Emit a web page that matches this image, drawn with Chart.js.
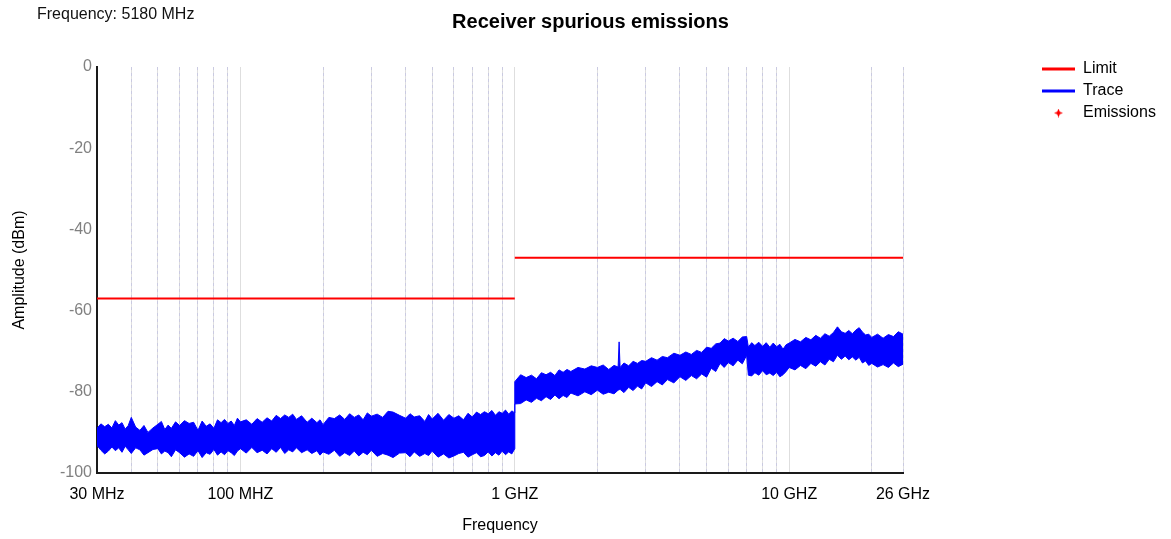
<!DOCTYPE html>
<html>
<head>
<meta charset="utf-8">
<title>Receiver spurious emissions</title>
<script src="https://cdn.jsdelivr.net/npm/chart.js@4.4.1/dist/chart.umd.min.js"></script>
<style>
    html, body { margin: 0; padding: 0; background: #fff; }
    #wrap { width: 1171px; height: 539px; }
</style>
</head>
<body>
<div id="wrap"><canvas id="spuriousChart" width="1171" height="539"></canvas></div>
<script>
// Datos (frecuencias en MHz, amplitudes en dBm)
const tickFreqMHz = [30, 100, 1000, 10000, 26000];
const tickLabels = ['30 MHz', '100 MHZ', '1 GHZ', '10 GHZ', '26 GHz'];
const gridFreqMHz = [40, 50, 60, 70, 80, 90, 200, 300, 400, 500, 600, 700, 800, 900,
    2000, 3000, 4000, 5000, 6000, 7000, 8000, 9000, 20000];
const yTicks = [0, -20, -40, -60, -80, -100];

// Línea límite (con corte en 1 GHz)
const limitFreqMHz = [30, 1000, 1000, 1000, 26000];
const limitDbm = [-57, -57, null, -47, -47];

// Traza: borde superior e inferior de la banda de ruido
const traceFreqMHz = [
    30, 31, 32, 33, 34, 35, 36, 37, 38, 39,
    40, 41.5, 43, 44.5, 46, 48, 50, 51.5, 53, 54.5,
    56, 58, 60, 62.5, 65, 67.5, 70, 72.5, 75, 77.5,
    80, 82.5, 85, 87.5, 90, 92.5, 95, 97.5, 100, 105,
    110, 115, 120, 125, 130, 135, 140, 145, 150, 155,
    160, 167, 175, 182, 190, 195, 200, 210, 220, 230,
    240, 250, 260, 270, 280, 290, 300, 315, 330, 345,
    360, 380, 400, 415, 430, 450, 470, 485, 500, 525,
    550, 575, 600, 625, 650, 675, 700, 725, 750, 775,
    800, 825, 850, 875, 900, 925, 950, 975, 1000,
    1000, 1050, 1100, 1150, 1200, 1250, 1300, 1350, 1400, 1450,
    1500, 1550, 1600, 1700, 1800, 1900, 2000, 2100, 2200, 2300,
    2380, 2400, 2420, 2500, 2600, 2700, 2800, 2900, 3000, 3150,
    3300, 3450, 3600, 3800, 4000, 4200, 4400, 4600, 4800, 5000,
    5200, 5400, 5600, 5800, 6000, 6250, 6500, 6750, 7000, 7100,
    7300, 7500, 7750, 8000, 8250, 8500, 8750, 9000, 9250, 9500,
    9750, 10000, 10500, 11000, 11500, 12000, 12500, 13000, 13500, 14000,
    14500, 15000, 15500, 16000, 16500, 17000, 17500, 18000, 18500, 19000,
    19500, 20000, 21000, 22000, 23000, 24000, 25000, 26000
];
const traceTopDbm = [
    -89.0, -87.9, -88.6, -88.0, -88.9, -87.1, -88.2, -87.6, -89.2, -88.3,
    -86.3, -88.7, -89.5, -88.3, -90.0, -88.9, -88.0, -87.3, -89.3, -88.2,
    -89.0, -87.4, -88.3, -87.1, -87.8, -87.5, -89.5, -87.2, -88.5, -87.9,
    -89.0, -86.9, -87.6, -86.8, -87.8, -87.2, -88.3, -86.5, -87.4, -86.9,
    -88.0, -86.6, -87.5, -86.4, -87.2, -85.8, -86.6, -85.7, -86.3, -85.5,
    -86.8, -85.9, -87.5, -86.5, -87.6, -86.9, -88.1, -86.3, -86.6, -85.7,
    -86.8, -85.4, -86.3, -85.7, -86.9, -85.2, -86.0, -85.5, -86.3, -84.8,
    -85.0, -85.8, -86.5, -85.4, -86.2, -85.9, -87.3, -85.6, -86.7, -85.3,
    -87.0, -85.6, -86.5, -85.9, -86.9, -85.3, -86.2, -85.0, -85.6, -84.9,
    -85.4, -84.6, -85.8, -84.9, -85.3, -84.5, -85.5, -84.7, -85.2,
    -77.5, -75.8, -76.5, -75.9, -76.8, -75.3, -75.8, -75.2, -76.0, -74.6,
    -75.2, -74.5, -75.0, -74.0, -74.4, -73.6, -74.0, -73.4, -74.5, -73.5,
    -73.9, -67.7, -74.0, -72.9, -73.6, -72.5, -73.0, -72.3, -72.5, -71.6,
    -72.2, -71.3, -71.6, -70.5, -71.0, -70.2, -70.8, -69.8, -70.3, -69.0,
    -69.3, -68.2, -68.0, -66.9, -67.5, -66.8, -67.6, -66.5, -66.4, -69.0,
    -67.9, -68.6, -67.8, -68.8, -67.9, -69.0, -68.0, -68.9, -68.3, -69.5,
    -68.4, -68.0, -67.1, -67.7, -66.6, -67.2, -66.1, -66.8, -65.7, -66.3,
    -65.4, -64.0, -65.2, -65.6, -64.9, -65.7, -64.8, -64.2, -65.3, -66.0,
    -65.8, -66.6, -65.8, -66.8, -65.9, -66.4, -65.2, -65.8
];
const traceBottomDbm = [
    -93.2, -94.4, -95.3, -94.6, -93.6, -94.5, -93.8, -94.9, -93.4, -94.3,
    -95.2, -93.8, -94.3, -95.6, -95.0, -94.2, -94.0, -95.3, -94.6, -95.0,
    -96.0, -94.3, -95.0, -96.1, -95.3, -95.9, -94.5, -96.2, -95.0, -95.4,
    -94.2, -95.6, -94.8, -95.5, -94.5, -95.0, -95.7, -94.6, -94.0, -95.1,
    -93.7, -95.0, -94.4, -95.3, -94.0, -94.9, -93.7, -95.2, -94.3, -94.8,
    -93.8, -95.0, -94.3, -95.2, -94.5, -95.6, -94.8, -95.4, -94.4, -95.9,
    -95.0, -95.7, -94.6, -95.8, -94.9, -95.5, -94.4, -95.9, -95.2, -95.6,
    -96.2, -95.1, -95.0, -96.0, -94.8, -95.9, -95.2, -95.7, -94.6, -96.1,
    -95.3, -96.3, -95.8, -95.2, -94.9, -96.1, -95.5, -95.0, -96.0, -95.7,
    -94.8, -95.8, -95.0, -95.6, -94.6, -95.5, -94.8, -95.3, -94.0,
    -83.0, -82.9, -82.0, -82.6, -81.6, -82.2, -81.2, -81.9, -80.8, -81.7,
    -80.9, -81.4, -80.3, -81.0, -80.0, -80.7, -79.6, -80.6, -80.1, -80.5,
    -79.6, -79.5, -79.4, -80.2, -78.9, -79.7, -78.6, -79.3, -77.8, -78.7,
    -77.5, -78.3, -77.0, -77.8, -76.3, -77.2, -76.0, -76.8, -75.6, -76.4,
    -74.2, -75.0, -73.0, -74.0, -72.8, -73.6, -72.2, -73.1, -71.0, -75.9,
    -76.1, -75.3, -75.9, -74.8, -75.8, -75.4, -76.0, -75.2, -76.3, -75.8,
    -75.0, -74.0, -74.6, -73.5, -74.3, -73.0, -73.7, -72.6, -73.4, -72.0,
    -72.6, -71.0, -72.0, -71.2, -72.1, -71.4, -72.2, -71.5, -72.9, -72.4,
    -73.5, -73.0, -73.9, -73.3, -74.0, -72.9, -73.8, -73.2
];

// Emisiones detectadas (ninguna en la captura)
const emissionFreqMHz = [];
const emissionDbm = [];

const allTicks = tickFreqMHz.concat(gridFreqMHz).sort((a, b) => a - b);

function puntos(xs, ys) {
    return xs.map((x, i) => ({ x: x, y: ys[i] }));
}

// Marcador de estrella roja para "Emissions"
function crearEstrella() {
    const c = document.createElement('canvas');
    c.width = 9;
    c.height = 9;
    const g = c.getContext('2d');
    g.fillStyle = '#ff0000';
    g.beginPath();
    g.moveTo(4.5, 0);
    g.lineTo(5.8, 3.2);
    g.lineTo(9, 4.5);
    g.lineTo(5.8, 5.8);
    g.lineTo(4.5, 9);
    g.lineTo(3.2, 5.8);
    g.lineTo(0, 4.5);
    g.lineTo(3.2, 3.2);
    g.closePath();
    g.fill();
    return c;
}
const estrella = crearEstrella();

Chart.defaults.font.family = '"Liberation Sans", Arial, sans-serif';
Chart.defaults.font.size = 16;
Chart.defaults.color = '#000';

// Texto de cabecera y posición de la leyenda
const extras = {
    id: 'extras',
    afterLayout(chart) {
        const lg = chart.legend;
        if (lg) {
            lg.left = 1036;
            lg.right = lg.left + lg.width;
            lg.top = 55;
            lg.bottom = lg.top + lg.height;
        }
    },
    afterDraw(chart) {
        const ctx = chart.ctx;
        ctx.save();
        ctx.font = '16px "Liberation Sans", Arial, sans-serif';
        ctx.fillStyle = '#111';
        ctx.textBaseline = 'middle';
        ctx.textAlign = 'left';
        ctx.fillText('Frequency: 5180 MHz', 37, 15);
        ctx.restore();
    }
};

const ctx = document.getElementById('spuriousChart').getContext('2d');
const spuriousChart = new Chart(ctx, {
    type: 'line',
    data: {
        datasets: [
            {
                label: 'Limit',
                data: puntos(limitFreqMHz, limitDbm),
                borderColor: '#ff0000',
                backgroundColor: '#ff0000',
                borderWidth: 2,
                pointRadius: 0,
                pointStyle: 'line',
                spanGaps: false,
                fill: false,
                xAxisID: 'x',
                yAxisID: 'y'
            },
            {
                label: 'Trace',
                data: puntos(traceFreqMHz, traceTopDbm),
                borderColor: '#0000ff',
                backgroundColor: '#0000ff',
                borderWidth: 1,
                pointRadius: 0,
                pointStyle: 'line',
                fill: '+1',
                xAxisID: 'x',
                yAxisID: 'y'
            },
            {
                label: 'Trace (min)',
                data: puntos(traceFreqMHz, traceBottomDbm),
                borderColor: '#0000ff',
                backgroundColor: '#0000ff',
                borderWidth: 1,
                pointRadius: 0,
                fill: false,
                xAxisID: 'x',
                yAxisID: 'y'
            },
            {
                label: 'Emissions',
                data: puntos(emissionFreqMHz, emissionDbm),
                borderColor: '#ff0000',
                backgroundColor: '#ff0000',
                showLine: false,
                pointStyle: estrella,
                xAxisID: 'x',
                yAxisID: 'y'
            }
        ]
    },
    options: {
        responsive: false,
        animation: false,
        events: [],
        layout: {
            padding: { left: 10, right: 0, top: 0, bottom: 0 }
        },
        plugins: {
            title: {
                display: true,
                text: 'Receiver spurious emissions',
                color: '#000',
                font: { size: 20, weight: 'bold' },
                padding: { top: 10, bottom: 33 }
            },
            legend: {
                position: 'chartArea',
                align: 'start',
                labels: {
                    usePointStyle: true,
                    pointStyleWidth: 33,
                    boxHeight: 5,
                    padding: 6,
                    color: '#000',
                    font: { size: 16 },
                    filter: (item) => item.datasetIndex !== 2,
                    generateLabels(chart) {
                        const items = Chart.defaults.plugins.legend.labels.generateLabels(chart);
                        items.forEach((it) => {
                            if (it.datasetIndex === 3) {
                                it.pointStyle = estrella;
                            } else {
                                it.pointStyle = 'line';
                                it.lineWidth = 3;
                            }
                        });
                        return items;
                    }
                }
            },
            tooltip: { enabled: false }
        },
        scales: {
            x: {
                type: 'logarithmic',
                min: 30,
                max: 26000,
                afterBuildTicks: (scale) => {
                    scale.ticks = allTicks.map((v) => ({ value: v }));
                },
                afterFit: (scale) => {
                    scale.height = 66;
                },
                ticks: {
                    autoSkip: false,
                    maxRotation: 0,
                    padding: 12,
                    color: '#000',
                    font: { size: 16 },
                    callback: (value) => {
                        const i = tickFreqMHz.indexOf(value);
                        return i >= 0 ? tickLabels[i] : '';
                    }
                },
                grid: {
                    color: 'rgba(0, 0, 0, 0.13)',
                    lineWidth: 1,
                    drawTicks: false
                },
                border: { display: true, color: '#1a1a1a', width: 2 },
                title: {
                    display: true,
                    text: 'Frequency',
                    color: '#000',
                    font: { size: 16 },
                    padding: { top: 0, bottom: 4 }
                }
            },
            x2: {
                type: 'logarithmic',
                position: 'bottom',
                min: 30,
                max: 26000,
                z: 1,
                afterBuildTicks: (scale) => {
                    scale.ticks = gridFreqMHz.concat([26000]).map((v) => ({ value: v }));
                },
                afterFit: (scale) => {
                    scale.height = 0;
                },
                ticks: { display: false },
                grid: {
                    color: 'rgba(200, 200, 225, 0.9)',
                    lineWidth: 1,
                    drawTicks: false
                },
                border: { display: false, dash: [3, 3] }
            },
            y: {
                type: 'linear',
                position: 'left',
                min: -100,
                max: 0,
                afterBuildTicks: (scale) => {
                    scale.ticks = yTicks.map((v) => ({ value: v }));
                },
                afterFit: (scale) => {
                    scale.width = 87;
                },
                ticks: {
                    padding: 5,
                    color: '#808080',
                    font: { size: 16 }
                },
                grid: { display: false, drawTicks: false },
                border: { display: true, color: '#1a1a1a', width: 2 },
                title: {
                    display: true,
                    text: 'Amplitude (dBm)',
                    color: '#000',
                    font: { size: 16 },
                    padding: { top: 0, bottom: 0 }
                }
            },
            gap: {
                type: 'linear',
                position: 'right',
                display: true,
                afterFit: (scale) => {
                    scale.width = 1171 - 903;
                },
                ticks: { display: false },
                grid: { display: false, drawTicks: false },
                border: { display: false }
            }
        }
    },
    plugins: [extras]
});
</script>
</body>
</html>
